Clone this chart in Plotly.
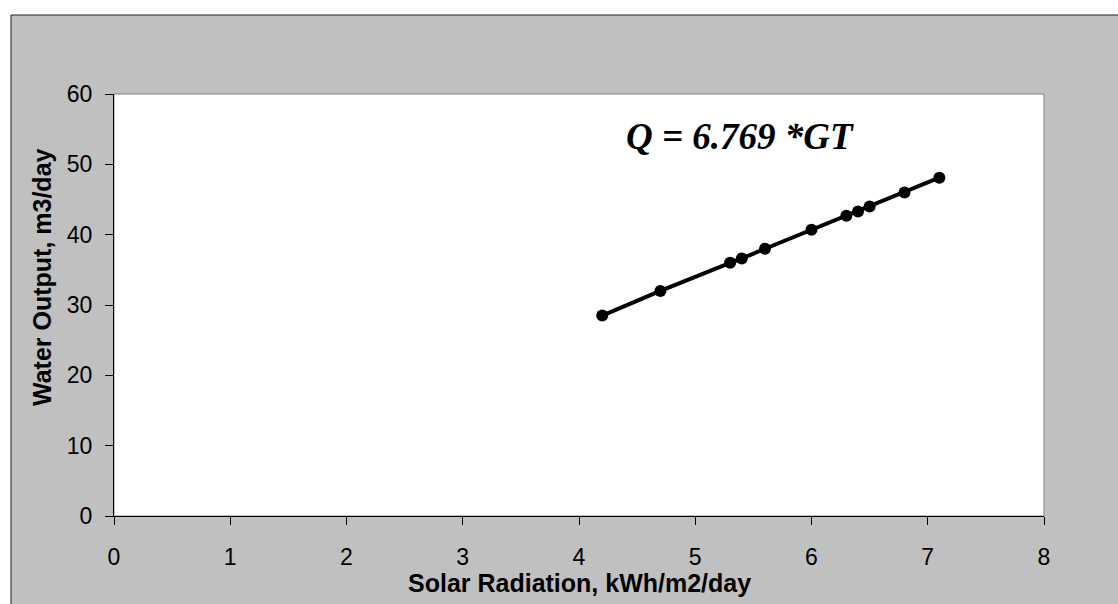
import plotly.graph_objects as go

# Daily solar radiation (kWh/m2/day) and pumped water output (m3/day)
solar_radiation = [4.2, 4.7, 5.3, 5.4, 5.6, 6.0, 6.3, 6.4, 6.5, 6.8, 7.1]
water_output = [28.5, 32.0, 36.0, 36.6, 38.0, 40.7, 42.7, 43.3, 44.0, 46.0, 48.1]

x_ticks = [0, 1, 2, 3, 4, 5, 6, 7, 8]
y_ticks = [0, 10, 20, 30, 40, 50, 60]

equation_text = "Q = 6.769 *GT"
x_title = "Solar Radiation, kWh/m2/day"
y_title = "Water Output, m3/day"

W, H = 1118, 604
L, R, T, B = 114, 74, 94, 88
PW, PH = W - L - R, H - T - B


def px(xp):
    return (xp - L) / PW


def py(yp):
    return (H - B - yp) / PH


GREY = "#C0C0C0"
FONT = "Liberation Sans, Arial, sans-serif"

fig = go.Figure()
fig.add_trace(go.Scatter(
    x=solar_radiation, y=water_output, mode="lines+markers",
    line=dict(color="black", width=4),
    marker=dict(color="black", size=12),
    showlegend=False, hoverinfo="x+y",
))

frame_x, frame_y = px(11), py(15)
shapes = [
    # white margin strips outside the chart frame
    dict(type="rect", xref="paper", yref="paper", x0=-1, x1=2, y0=frame_y, y1=2,
         fillcolor="white", line=dict(width=0), layer="below"),
    dict(type="rect", xref="paper", yref="paper", x0=-1, x1=frame_x, y0=-1, y1=2,
         fillcolor="white", line=dict(width=0), layer="below"),
    # chart frame edges
    dict(type="line", xref="paper", yref="paper", x0=frame_x, x1=frame_x, y0=-1, y1=frame_y,
         line=dict(color="#222222", width=1)),
    dict(type="line", xref="paper", yref="paper", x0=frame_x, x1=2, y0=frame_y, y1=frame_y,
         line=dict(color="#222222", width=1)),
    # plot-area border
    dict(type="rect", xref="paper", yref="paper", x0=0, x1=1, y0=0, y1=1,
         fillcolor="rgba(0,0,0,0)", line=dict(color="#808080", width=1), layer="below"),
]

annotations = [
    dict(text="<b><i>" + equation_text + "</i></b>", xref="paper", yref="paper",
         x=px(740), y=py(136), xanchor="center", yanchor="middle", showarrow=False,
         font=dict(family="Liberation Serif, Times New Roman, serif", size=37, color="black")),
    dict(text="<b>" + x_title + "</b>", xref="paper", yref="paper",
         x=px(579), y=py(583), xanchor="center", yanchor="middle", showarrow=False,
         font=dict(family=FONT, size=25, color="black")),
    dict(text="<b>" + y_title + "</b>", xref="paper", yref="paper", textangle=-90,
         x=px(42), y=py(277), xanchor="center", yanchor="middle", showarrow=False,
         font=dict(family=FONT, size=25, color="black")),
]

fig.update_layout(
    width=W, height=H,
    margin=dict(l=L, r=R, t=T, b=B, pad=0),
    paper_bgcolor=GREY, plot_bgcolor="white",
    shapes=shapes, annotations=annotations,
    font=dict(family=FONT, size=23, color="black"),
)
fig.update_xaxes(
    range=[0, 8], tickvals=x_ticks, ticktext=[str(v) for v in x_ticks],
    showgrid=False, zeroline=False, showline=True, linecolor="black", linewidth=1,
    ticks="outside", ticklen=8, tickcolor="black", ticklabelstandoff=12,
    tickfont=dict(family=FONT, size=23, color="black"),
)
fig.update_yaxes(
    range=[0, 60], tickvals=y_ticks, ticktext=[str(v) for v in y_ticks],
    showgrid=False, zeroline=False, showline=True, linecolor="black", linewidth=1,
    ticks="outside", ticklen=8, tickcolor="black", ticklabelstandoff=8,
    tickfont=dict(family=FONT, size=23, color="black"),
)

fig.write_html("out.html")
